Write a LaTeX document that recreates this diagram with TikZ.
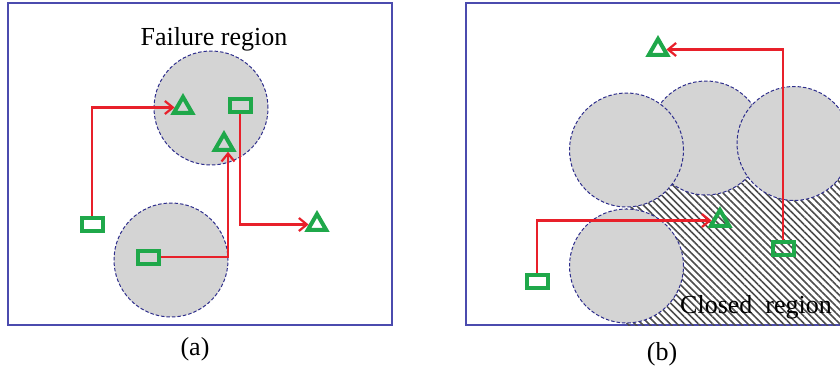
\documentclass[tikz,border=0pt]{standalone}
\usepackage{fontspec}
\setmainfont{Liberation Serif}
\usetikzlibrary{arrows.meta,shapes.geometric,patterns.meta}
\definecolor{frameblue}{HTML}{4B4BAE}
\definecolor{circedge}{HTML}{2E2E8C}
\definecolor{circfill}{HTML}{D4D4D4}
\definecolor{grn}{HTML}{1FA84A}
\definecolor{rd}{HTML}{E8202A}
\tikzset{
  frame/.style={draw=frameblue, line width=1.6pt},
  region/.style={draw=circedge, fill=circfill, dash pattern=on 3.5pt off 2pt, line width=1pt},
  startbox/.style={draw=grn, line width=4pt, minimum width=21pt, minimum height=13pt, inner sep=0pt},
  goal/.style={draw=grn, line width=4pt, regular polygon, regular polygon sides=3, minimum size=21pt, inner sep=0pt},
  route/.style={draw=rd, line width=2.2pt, -{Straight Barb[length=8pt,width=13pt]}},
  lbl/.style={font=\fontsize{26}{30}\selectfont, inner sep=0pt}
}
\begin{document}
\begin{tikzpicture}[x=1pt,y=-1pt]
\useasboundingbox (0,0) rectangle (840,375);
\clip (0,0) rectangle (840,375);
% ---------- panel (a)
\draw[frame] (8,3) rectangle (392,325);
\path[region] (211,108) circle (57pt);
\path[region] (171,260) circle (57pt);
\node[lbl, anchor=base] (fr) at (214,45) {Failure region};
\node[startbox] (ra1) at (92,224) {};
\node[startbox] (ra2) at (240,105) {};
\node[startbox] (ra3) at (148,257) {};
\node[goal] (ta1) at (183,107.5) {};
\node[goal] (ta2) at (224,144.5) {};
\node[goal] (ta3) at (317,224.5) {};
\draw[route] (ra1.north) |- (ta1.west);
\draw[route] (ra3.east) -| ([xshift=4pt]ta2.south);
\draw[route] (ra2.south) |- (ta3.west);
\node[lbl] (capa) at (195,349) {(a)};
% ---------- panel (b)
\draw[frame] (466,3) rectangle (880,325);
\fill[pattern={Lines[angle=-45,distance=5pt,line width=1.6pt]}, pattern color=black!70] (626,150) rectangle (860,325);
\path[region] (706,138) circle (57pt);
\path[region] (626.5,150) circle (57pt);
\path[region] (794,143.5) circle (57pt);
\path[region] (626.5,266) circle (57pt);
\node[lbl, anchor=base west] (cr) at (680,313) {Closed\ \ region};
\node[startbox] (rb1) at (537,281) {};
\node[startbox] (rb2) at (783,248) {};
\node[goal] (tb1) at (658,49.5) {};
\node[goal] (tb2) at (720,220.5) {};
\draw[route] (rb1.north) |- (tb2.west);
\draw[route] (rb2.north) |- (tb1.east);
\node[lbl] (capb) at (662,354) {(b)};
\end{tikzpicture}
\end{document}
